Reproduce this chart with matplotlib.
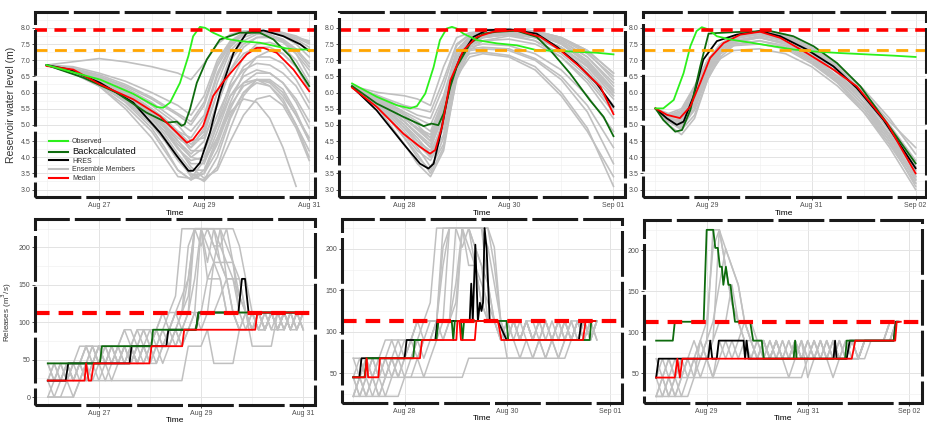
import numpy as np
import matplotlib
matplotlib.use("Agg")
import matplotlib.pyplot as plt
import matplotlib.dates as mdates
from matplotlib.lines import Line2D
from matplotlib.patches import Rectangle
from matplotlib.ticker import MultipleLocator, FormatStrFormatter

plt.rcParams["font.family"] = ["Liberation Sans", "DejaVu Sans"]
plt.rcParams["lines.scale_dashes"] = False

# ---------------- data ----------------
# each column of panels starts on its own day; times below are days since that start
COL_START = ["2020-08-26", "2020-08-27", "2020-08-28"]
COL_TICKS = [
    ["2020-08-27", "2020-08-29", "2020-08-31"],
    ["2020-08-28", "2020-08-30", "2020-09-01"],
    ["2020-08-29", "2020-08-31", "2020-09-02"],
]
LEVEL_MAX = 7.93      # red dashed, reservoir level
LEVEL_TARGET = 7.32   # orange dashed
RELEASE_MAX = 113     # red dashed, releases

# --- water level, forecast 1 ---
P1_OBS_T = [0, 1.02, 1.65, 2.10, 2.22, 2.35, 2.54, 2.70, 2.79, 2.92, 3.02, 3.17, 3.43, 3.68, 4.06, 4.51, 4.70, 5.0]
P1_OBS_V = [6.85, 6.40, 5.96, 5.55, 5.53, 5.69, 6.30, 7.13, 7.74, 8.03, 8.0, 7.85, 7.66, 7.59, 7.54, 7.38, 7.33, 7.33]
P1_BACK_T = [0, 0.70, 1.33, 1.90, 2.29, 2.48, 2.57, 2.63, 2.73, 2.86, 3.05, 3.30, 3.68, 4.06, 4.32, 4.63, 5.0]
P1_BACK_V = [6.85, 6.46, 6.0, 5.38, 5.07, 5.10, 4.97, 5.02, 5.48, 6.30, 7.02, 7.64, 7.85, 7.85, 7.64, 7.13, 6.2]
P1_HRES_T = [0, 0.44, 1.02, 1.65, 2.16, 2.48, 2.70, 2.79, 2.92, 3.11, 3.30, 3.56, 3.81, 4.13, 4.51, 4.83, 5.0]
P1_HRES_V = [6.85, 6.71, 6.30, 5.69, 4.76, 4.04, 3.58, 3.58, 3.83, 4.76, 5.99, 7.23, 7.85, 7.92, 7.74, 7.49, 7.28]
P1_MED_T = [0, 0.51, 1.02, 1.65, 2.16, 2.48, 2.67, 2.79, 2.98, 3.17, 3.37, 3.56, 3.81, 4.0, 4.13, 4.38, 4.70, 5.0]
P1_MED_V = [6.82, 6.71, 6.25, 5.79, 5.27, 4.76, 4.45, 4.55, 4.96, 5.89, 6.35, 6.71, 7.18, 7.38, 7.38, 7.23, 6.71, 6.04]
P1_ENS_T = [0, 0.5, 1, 1.5, 2, 2.25, 2.5, 2.75, 3, 3.25, 3.5, 3.75, 4, 4.25, 4.5, 4.75, 5]
P1_ENS = [
    [6.85, 6.6, 6.2, 5.5, 4.6, 4.0, 3.4, 3.35, 3.9, 5.0, 5.9, 6.3, 6.4, 6.2, 5.7, 5.0, 4.2],
    [6.85, 6.6, 6.25, 5.7, 4.9, 4.3, 3.6, 3.3, 3.5, 4.5, 5.6, 6.2, 6.4, 6.3, 5.9, 5.3, 4.6],
    [6.85, 6.65, 6.3, 5.8, 5.1, 4.6, 4.0, 3.4, 3.3, 4.0, 5.2, 6.0, 6.4, 6.35, 6.0, 5.3, 4.5],
    [6.85, 6.7, 6.4, 6.0, 5.4, 5.0, 4.5, 4.0, 3.9, 4.6, 5.7, 6.6, 7.1, 7.3, 7.2, 6.8, 6.2],
    [6.85, 6.7, 6.45, 6.1, 5.6, 5.3, 5.0, 4.5, 4.6, 5.6, 6.7, 7.4, 7.7, 7.75, 7.6, 7.3, 6.8],
    [6.85, 6.75, 6.5, 6.2, 5.8, 5.55, 5.3, 5.0, 5.6, 6.8, 7.5, 7.8, 7.88, 7.85, 7.75, 7.5, 7.1],
    [6.85, 6.95, 7.05, 6.95, 6.8, 6.7, 6.6, 6.4, 6.9, 7.5, 7.8, 7.9, 7.9, 7.85, 7.8, 7.7, 7.6],
    [6.85, 6.7, 6.4, 6.0, 5.4, 4.9, 4.3, 3.7, 3.35, 3.6, 4.5, 5.3, 5.8, 5.9, 5.6, 4.9, 3.9],
    [6.85, 6.6, 6.2, 5.6, 4.8, 4.2, 3.6, 3.3, 3.6, 4.6, 5.4, 5.8, 5.7, 5.2, 4.3, 3.1, np.nan],
    [6.85, 6.7, 6.35, 5.9, 5.3, 4.9, 4.4, 4.0, 4.3, 5.3, 6.2, 6.7, 6.9, 6.85, 6.6, 6.2, 5.5],
    [6.85, 6.75, 6.45, 6.05, 5.5, 5.2, 4.8, 4.4, 4.8, 6.0, 7.0, 7.5, 7.7, 7.7, 7.55, 7.2, 6.7],
    [6.85, 6.7, 6.4, 5.95, 5.35, 5.0, 4.6, 4.3, 4.9, 6.3, 7.3, 7.7, 7.85, 7.8, 7.6, 7.2, 6.5],
    [6.85, 6.65, 6.3, 5.85, 5.2, 4.7, 4.1, 3.6, 3.6, 4.4, 5.5, 6.3, 6.6, 6.6, 6.3, 5.8, 5.1],
    [6.85, 6.8, 6.6, 6.35, 6.0, 5.8, 5.6, 5.3, 5.9, 7.0, 7.6, 7.85, 7.9, 7.88, 7.8, 7.65, 7.4],
    [6.85, 6.65, 6.3, 5.8, 5.1, 4.6, 4.0, 3.5, 3.25, 3.7, 4.9, 5.9, 6.4, 6.4, 6.1, 5.4, 4.5],
    [6.85, 6.7, 6.4, 5.95, 5.4, 5.1, 4.7, 4.2, 4.2, 5.1, 6.3, 7.1, 7.5, 7.55, 7.4, 7.0, 6.3],
    [6.85, 6.7, 6.45, 6.05, 5.5, 5.15, 4.8, 4.6, 5.2, 6.5, 7.4, 7.8, 7.9, 7.88, 7.8, 7.6, 7.3],
    [6.85, 6.75, 6.5, 6.15, 5.7, 5.4, 5.1, 4.8, 5.3, 6.6, 7.45, 7.8, 7.9, 7.9, 7.85, 7.7, 7.5],
    [6.85, 6.65, 6.35, 5.9, 5.3, 4.95, 4.5, 4.1, 4.5, 5.7, 6.7, 7.2, 7.4, 7.4, 7.2, 6.8, 6.1],
    [6.85, 6.7, 6.35, 5.9, 5.25, 4.8, 4.3, 3.8, 3.8, 4.8, 5.9, 6.5, 6.7, 6.6, 6.3, 5.7, 4.9],
    [6.85, 6.6, 6.25, 5.75, 5.0, 4.5, 3.9, 3.45, 3.5, 4.2, 5.3, 6.0, 6.3, 6.2, 5.8, 5.0, 4.0],
    [6.85, 6.75, 6.55, 6.25, 5.85, 5.6, 5.35, 5.1, 5.7, 6.9, 7.55, 7.85, 7.92, 7.9, 7.85, 7.75, 7.55],
    [6.85, 6.7, 6.4, 6.0, 5.45, 5.1, 4.7, 4.3, 4.7, 6.0, 7.1, 7.6, 7.8, 7.78, 7.65, 7.35, 6.9],
    [6.85, 6.65, 6.3, 5.85, 5.2, 4.8, 4.25, 3.9, 4.0, 5.0, 6.1, 6.8, 7.1, 7.1, 6.9, 6.4, 5.7],
]

# --- water level, forecast 2 ---
P2_OBS_T = [0, 0.47, 0.85, 1.11, 1.24, 1.40, 1.56, 1.68, 1.81, 1.91, 2.0, 2.13, 2.39, 2.77, 3.15, 3.53, 3.92, 4.30, 4.68, 5.0]
P2_OBS_V = [6.28, 5.87, 5.61, 5.51, 5.58, 5.97, 6.79, 7.62, 7.98, 8.03, 7.98, 7.82, 7.62, 7.52, 7.46, 7.31, 7.29, 7.26, 7.23, 7.18]
P2_BACK_T = [0, 0.47, 0.98, 1.37, 1.52, 1.65, 1.75, 1.88, 2.0, 2.26, 2.51, 2.77, 3.15, 3.53, 3.79, 4.17, 4.55, 4.81, 5.0]
P2_BACK_V = [6.2, 5.66, 5.25, 4.96, 5.04, 4.99, 5.35, 6.18, 6.79, 7.52, 7.82, 7.88, 7.91, 7.72, 7.31, 6.59, 5.76, 5.25, 4.65]
P2_HRES_T = [0, 0.47, 0.98, 1.30, 1.46, 1.56, 1.68, 1.88, 2.07, 2.32, 2.58, 3.02, 3.53, 3.92, 4.30, 4.68, 5.0]
P2_HRES_V = [6.18, 5.45, 4.42, 3.80, 3.65, 3.80, 4.63, 6.28, 7.10, 7.72, 7.93, 7.95, 7.82, 7.41, 6.90, 6.28, 5.56]
P2_MED_T = [0, 0.47, 0.98, 1.30, 1.49, 1.59, 1.72, 1.88, 2.13, 2.39, 2.70, 3.15, 3.60, 3.98, 4.36, 4.75, 5.0]
P2_MED_V = [6.15, 5.56, 4.73, 4.32, 4.11, 4.22, 4.94, 6.38, 7.31, 7.72, 7.88, 7.93, 7.72, 7.31, 6.79, 6.18, 5.33]
P2_ENS_T = [0, 0.5, 1, 1.25, 1.5, 1.75, 2, 2.25, 2.5, 3, 3.5, 4, 4.5, 5]
P2_ENS = [
    [6.2, 5.8, 5.3, 5.0, 4.6, 5.6, 7.0, 7.6, 7.8, 7.9, 7.85, 7.6, 7.1, 6.3],
    [6.2, 5.7, 4.9, 4.4, 4.0, 5.2, 7.2, 7.7, 7.85, 7.9, 7.85, 7.5, 6.9, 6.0],
    [6.2, 5.6, 4.6, 4.0, 3.6, 4.6, 6.8, 7.5, 7.75, 7.85, 7.7, 7.3, 6.6, 5.6],
    [6.2, 5.5, 4.4, 3.8, 3.4, 4.2, 6.5, 7.4, 7.7, 7.8, 7.6, 7.1, 6.3, 5.2],
    [6.2, 5.9, 5.6, 5.5, 5.4, 6.4, 7.5, 7.8, 7.9, 7.95, 7.9, 7.65, 7.2, 6.5],
    [6.2, 6.0, 5.9, 5.8, 5.6, 6.8, 7.7, 7.85, 7.9, 7.95, 7.9, 7.7, 7.3, 6.6],
    [6.2, 5.75, 5.1, 4.7, 4.3, 5.3, 6.8, 7.2, 7.25, 7.15, 6.8, 6.0, 4.9, 3.1],
    [6.2, 5.7, 5.0, 4.5, 4.2, 5.0, 6.5, 7.1, 7.2, 7.1, 6.7, 5.9, 4.8, 3.4],
    [6.2, 5.8, 5.2, 4.9, 4.6, 5.6, 7.0, 7.35, 7.4, 7.35, 7.05, 6.5, 5.6, 4.3],
    [6.2, 5.6, 4.7, 4.2, 3.9, 4.7, 6.7, 7.5, 7.7, 7.8, 7.7, 7.35, 6.7, 5.8],
    [6.2, 5.85, 5.4, 5.2, 5.0, 5.9, 7.3, 7.7, 7.85, 7.9, 7.85, 7.55, 7.0, 6.1],
    [6.2, 5.65, 4.8, 4.3, 3.7, 4.4, 6.4, 7.3, 7.6, 7.75, 7.6, 7.2, 6.5, 5.5],
    [6.2, 5.75, 5.2, 4.85, 4.5, 5.5, 7.1, 7.6, 7.8, 7.85, 7.75, 7.4, 6.8, 5.9],
    [6.2, 5.8, 5.2, 4.9, 4.7, 5.7, 7.1, 7.4, 7.5, 7.45, 7.2, 6.7, 5.9, 4.8],
    [6.2, 5.85, 5.35, 5.1, 4.8, 5.8, 7.3, 7.75, 7.9, 7.95, 7.9, 7.7, 7.25, 6.4],
    [6.2, 5.75, 5.1, 4.7, 4.3, 5.3, 7.1, 7.65, 7.85, 7.9, 7.85, 7.6, 7.1, 6.2],
    [6.2, 5.7, 5.0, 4.6, 4.1, 5.0, 7.0, 7.6, 7.8, 7.9, 7.8, 7.5, 6.95, 6.05],
    [6.2, 5.6, 4.6, 4.1, 3.5, 4.3, 6.6, 7.5, 7.75, 7.85, 7.75, 7.4, 6.8, 5.9],
    [6.2, 5.9, 5.5, 5.3, 5.2, 6.2, 7.45, 7.8, 7.9, 7.95, 7.9, 7.7, 7.3, 6.6],
    [6.2, 5.8, 5.2, 4.9, 4.5, 5.5, 7.0, 7.45, 7.6, 7.65, 7.5, 7.1, 6.4, 5.4],
    [6.2, 5.7, 4.9, 4.5, 4.0, 4.9, 6.8, 7.5, 7.7, 7.8, 7.7, 7.4, 6.85, 6.0],
    [6.2, 5.75, 5.1, 4.75, 4.4, 5.4, 6.9, 7.3, 7.35, 7.3, 7.0, 6.4, 5.4, 3.8],
]

# --- water level, forecast 3 ---
P3_OBS_T = [0, 0.15, 0.35, 0.54, 0.67, 0.79, 0.89, 1.02, 1.18, 1.44, 1.88, 2.27, 2.65, 3.04, 3.55, 4.19, 4.58, 5.0]
P3_OBS_V = [5.51, 5.51, 5.77, 6.60, 7.43, 7.90, 8.02, 7.95, 7.74, 7.64, 7.53, 7.43, 7.33, 7.27, 7.22, 7.17, 7.14, 7.10]
P3_BACK_T = [0, 0.15, 0.38, 0.51, 0.67, 0.86, 1.02, 1.18, 1.56, 2.21, 2.65, 3.04, 3.49, 3.94, 4.45, 5.0]
P3_BACK_V = [5.51, 5.15, 4.79, 4.84, 5.46, 6.81, 7.82, 7.84, 7.87, 7.90, 7.74, 7.43, 6.91, 6.19, 5.05, 3.81]
P3_HRES_T = [0, 0.22, 0.41, 0.54, 0.73, 0.92, 1.18, 1.56, 2.01, 2.40, 2.91, 3.42, 3.87, 4.38, 5.0]
P3_HRES_V = [5.51, 5.20, 5.0, 5.10, 5.88, 7.02, 7.59, 7.79, 7.90, 7.74, 7.33, 6.81, 6.14, 5.16, 3.66]
P3_MED_T = [0, 0.22, 0.47, 0.67, 0.86, 1.05, 1.31, 1.63, 2.01, 2.40, 2.91, 3.42, 3.87, 4.45, 5.0]
P3_MED_V = [5.51, 5.31, 5.21, 5.57, 6.30, 7.07, 7.53, 7.79, 7.88, 7.69, 7.22, 6.71, 6.19, 5.05, 3.50]
P3_ENS_T = [0, 0.25, 0.5, 0.75, 1, 1.25, 1.5, 2, 2.5, 3, 3.5, 4, 4.5, 5]
P3_ENS = [
    [5.5, 5.0, 4.7, 5.2, 6.4, 7.2, 7.55, 7.7, 7.5, 7.0, 6.3, 5.4, 4.3, 3.0],
    [5.5, 5.1, 4.9, 5.5, 6.6, 7.3, 7.6, 7.75, 7.6, 7.2, 6.6, 5.7, 4.6, 3.3],
    [5.5, 5.2, 5.1, 5.7, 6.8, 7.4, 7.7, 7.85, 7.7, 7.3, 6.7, 5.9, 4.8, 3.5],
    [5.5, 5.3, 5.3, 6.0, 6.9, 7.4, 7.7, 7.8, 7.6, 7.15, 6.5, 5.7, 4.7, 3.4],
    [5.5, 5.35, 5.5, 6.2, 7.0, 7.5, 7.75, 7.9, 7.8, 7.4, 6.85, 6.1, 5.2, 4.1],
    [5.5, 5.25, 5.2, 5.8, 6.7, 7.2, 7.45, 7.5, 7.35, 6.9, 6.3, 5.5, 4.5, 3.3],
    [5.5, 5.15, 5.0, 5.5, 6.5, 7.05, 7.3, 7.35, 7.2, 6.8, 6.2, 5.4, 4.4, 3.2],
    [5.5, 5.3, 5.4, 6.1, 6.95, 7.45, 7.75, 7.9, 7.75, 7.35, 6.8, 6.0, 5.1, 4.3],
    [5.5, 5.2, 5.05, 5.6, 6.7, 7.35, 7.65, 7.8, 7.65, 7.25, 6.6, 5.8, 4.7, 3.6],
    [5.5, 5.1, 4.85, 5.3, 6.4, 7.1, 7.45, 7.6, 7.45, 7.0, 6.4, 5.6, 4.6, 3.7],
    [5.5, 5.3, 5.35, 6.1, 6.9, 7.4, 7.7, 7.85, 7.7, 7.3, 6.75, 6.0, 5.0, 3.9],
    [5.5, 5.2, 5.15, 5.75, 6.75, 7.3, 7.6, 7.7, 7.5, 7.05, 6.45, 5.6, 4.5, 3.1],
    [5.5, 5.25, 5.25, 5.9, 6.85, 7.4, 7.7, 7.85, 7.7, 7.3, 6.7, 5.9, 4.9, 3.8],
    [5.5, 5.15, 4.95, 5.45, 6.55, 7.2, 7.55, 7.7, 7.55, 7.1, 6.5, 5.7, 4.6, 3.4],
    [5.5, 5.3, 5.45, 6.15, 7.0, 7.5, 7.75, 7.88, 7.72, 7.3, 6.7, 5.85, 4.85, 3.7],
    [5.5, 5.2, 5.1, 5.65, 6.7, 7.25, 7.5, 7.6, 7.4, 6.95, 6.35, 5.5, 4.4, 3.2],
]

# --- releases (m3/s), 3-hourly ensemble grid in days ---
REL_T = [0, 0.125, 0.25, 0.375, 0.5, 0.625, 0.75, 0.875,
         1, 1.125, 1.25, 1.375, 1.5, 1.625, 1.75, 1.875,
         2, 2.125, 2.25, 2.375, 2.5, 2.625, 2.75, 2.875,
         3, 3.125, 3.25, 3.375, 3.5, 3.625, 3.75, 3.875,
         4, 4.125, 4.25, 4.375, 4.5, 4.625, 4.75, 4.875, 5]

R1_BACK_T = [0, 1.02, 1.06, 2.03, 2.06, 2.90, 2.95, 5.0]
R1_BACK_V = [45, 45, 68, 68, 90, 90, 113, 113]
R1_HRES_T = [0, 0.35, 0.40, 1.60, 1.64, 2.32, 2.36, 2.90, 2.95, 3.73, 3.80, 3.86, 3.93, 5.0]
R1_HRES_V = [22, 22, 45, 45, 68, 68, 90, 90, 113, 113, 158, 158, 113, 113]
R1_MED_T = [0, 0.72, 0.75, 0.80, 0.85, 0.90, 1.99, 2.03, 2.63, 2.67, 4.06, 4.10, 5.0]
R1_MED_V = [22, 22, 45, 22, 22, 45, 45, 68, 68, 90, 90, 113, 113]
R1_ENS = [
    [22, 45, 22, 45, 22, 45, 68, 45, 68, 45, 68, 45, 68, 45, 68, 90, 68, 90, 68, 90, 113, 90, 113, 158,
     225, 225, 202, 180, 158, 113, 90, 113, 90, 113, 90, 113, 90, 113, 90, 113, 113],
    [0, 0, 0, 0, 0, 22, 22, 45, 22, 45, 22, 45, 45, 68, 45, 68, 45, 68, 90, 68, 90, 113, 135, 225,
     225, 225, 225, 225, 202, 180, 135, 113, 90, 113, 90, 113, 90, 113, 113, 90, 113],
    [22, 22, 45, 22, 45, 45, 45, 68, 45, 68, 68, 45, 68, 68, 90, 68, 68, 90, 90, 113, 113, 135, 158, 225,
     225, 202, 180, 158, 113, 113, 90, 90, 113, 90, 113, 113, 90, 113, 90, 113, 113],
    [0, 0, 0, 22, 22, 45, 22, 22, 22, 22, 22, 22, 22, 22, 22, 22, 22, 22, 22, 22, 22, 22, 68, 68,
     68, 90, 45, 45, 45, 45, 90, 90, 90, 113, 90, 113, 90, 113, 90, 113, 113],
    [45, 22, 45, 45, 22, 45, 68, 68, 45, 68, 45, 68, 68, 45, 68, 68, 90, 68, 90, 90, 113, 113, 158, 225,
     225, 180, 225, 225, 158, 158, 113, 113, 68, 68, 68, 68, 113, 113, 90, 113, 90],
    [22, 45, 45, 22, 45, 22, 45, 45, 68, 45, 45, 68, 45, 68, 45, 45, 68, 45, 68, 68, 90, 68, 90, 113,
     113, 158, 180, 180, 158, 158, 135, 113, 113, 90, 113, 90, 90, 113, 90, 90, 113],
    [22, 22, 22, 45, 45, 45, 68, 68, 68, 45, 68, 68, 90, 68, 90, 90, 68, 90, 113, 90, 113, 113, 202, 225,
     225, 225, 202, 202, 180, 180, 158, 113, 113, 113, 90, 113, 113, 90, 113, 113, 113],
    [45, 45, 22, 22, 45, 45, 22, 45, 68, 68, 45, 45, 68, 68, 45, 68, 45, 45, 68, 68, 68, 90, 90, 113,
     90, 113, 113, 135, 158, 113, 113, 90, 113, 90, 90, 113, 90, 113, 90, 113, 90],
    [0, 22, 22, 22, 0, 22, 45, 45, 45, 45, 45, 45, 45, 45, 45, 68, 68, 68, 45, 68, 90, 68, 90, 90,
     113, 113, 180, 225, 225, 225, 202, 158, 113, 113, 90, 113, 90, 113, 113, 90, 113],
    [22, 22, 45, 45, 45, 68, 68, 45, 68, 68, 68, 68, 90, 90, 68, 90, 90, 90, 113, 113, 135, 225, 225, 225,
     225, 158, 158, 158, 113, 113, 90, 113, 113, 90, 90, 113, 113, 90, 113, 113, 113],
    [45, 22, 22, 45, 22, 22, 45, 22, 45, 22, 45, 68, 45, 68, 45, 68, 45, 68, 68, 90, 68, 90, 113, 113,
     225, 225, 225, 202, 225, 180, 113, 113, 90, 113, 90, 113, 90, 90, 113, 90, 113],
    [22, 0, 22, 45, 22, 45, 45, 68, 45, 45, 68, 45, 68, 45, 68, 45, 68, 90, 68, 90, 90, 113, 113, 225,
     202, 225, 225, 180, 180, 158, 158, 113, 90, 113, 113, 90, 113, 90, 113, 113, 90],
]

R2_BACK_T = [0, 0.22, 0.26, 1.17, 1.20, 1.62, 1.66, 1.92, 1.95, 1.98, 2.10, 2.13, 2.16, 2.99, 3.02, 4.61, 4.64, 4.72]
R2_BACK_V = [45, 45, 68, 68, 90, 90, 113, 113, 90, 113, 113, 90, 113, 113, 90, 90, 113, 113]
R2_HRES_T = [0, 0.12, 0.16, 1.0, 1.04, 1.60, 1.64, 2.27, 2.30, 2.33, 2.38, 2.43, 2.47, 2.50, 2.53, 2.56,
             2.60, 2.66, 2.82, 2.99, 4.40, 4.45, 4.70]
R2_HRES_V = [45, 45, 68, 68, 90, 90, 113, 113, 158, 113, 205, 113, 135, 125, 135, 225,
             200, 113, 113, 90, 90, 113, 113]
R2_MED_T = [0, 0.23, 0.26, 0.29, 0.49, 0.52, 1.30, 1.34, 2.01, 2.03, 2.07, 2.10, 2.37, 2.40, 2.82, 2.89,
            4.48, 4.53, 4.72]
R2_MED_V = [45, 45, 68, 45, 45, 68, 68, 90, 90, 113, 113, 90, 90, 113, 113, 90, 90, 113, 113]
R2_ENS = [
    [22, 45, 22, 45, 68, 45, 68, 45, 68, 90, 68, 90, 90, 113, 113, 225, 225, 225, 225, 202, 180, 158, 113, 113,
     90, 113, 90, 113, 90, 90, 113, 90, 113, 90, 113, 90, 113, 113, 90],
    [22, 22, 22, 22, 22, 22, 22, 22, 45, 45, 68, 45, 68, 90, 90, 113, 113, 225, 225, 225, 225, 225, 202, 113,
     113, 90, 90, 113, 90, 90, 90, 90, 90, 113, 90, 113, 113, 90, 113],
    [45, 22, 45, 45, 22, 45, 45, 45, 45, 45, 45, 45, 45, 45, 45, 45, 45, 45, 68, 68, 68, 68, 68, 68,
     68, 68, 68, 68, 68, 68, 68, 68, 68, 90, 90, 113, 90, 113, 90],
    [68, 45, 68, 45, 68, 68, 90, 68, 90, 90, 113, 90, 113, 113, 225, 225, 225, 202, 225, 180, 135, 113, 113, 90,
     113, 90, 113, 90, 90, 113, 90, 113, 90, 113, 90, 113, 90, 113, 113],
    [45, 68, 45, 68, 45, 68, 68, 90, 68, 90, 113, 113, 135, 225, 225, 225, 225, 225, 202, 180, 135, 113, 113, 90,
     90, 113, 90, 113, 113, 90, 113, 90, 113, 113, 90, 113, 113, 90, 113],
    [22, 45, 68, 45, 22, 45, 68, 68, 45, 68, 90, 68, 90, 113, 90, 113, 158, 225, 225, 225, 225, 202, 158, 113,
     113, 113, 90, 113, 90, 113, 90, 90, 113, 90, 113, 90, 113, 90, 113],
    [45, 45, 22, 45, 45, 68, 45, 68, 68, 90, 90, 113, 113, 113, 180, 225, 225, 225, 225, 225, 225, 225, 180, 113,
     90, 113, 90, 113, 90, 113, 113, 90, 90, 113, 90, 113, 90, 90, 113],
    [22, 45, 45, 22, 45, 22, 45, 68, 68, 68, 90, 90, 90, 113, 113, 113, 135, 225, 225, 225, 225, 158, 113, 113,
     68, 68, 68, 68, 68, 90, 68, 90, 68, 68, 90, 90, 113, 90, 113],
    [68, 68, 45, 68, 68, 90, 90, 90, 90, 90, 113, 113, 113, 113, 202, 225, 225, 225, 225, 202, 180, 113, 113, 90,
     113, 113, 90, 113, 90, 113, 113, 90, 113, 90, 113, 113, 90, 113, 113],
    [45, 22, 45, 68, 45, 45, 68, 45, 68, 68, 68, 90, 90, 90, 113, 113, 225, 225, 180, 180, 158, 135, 113, 113,
     90, 90, 68, 90, 68, 90, 68, 90, 68, 90, 90, 113, 113, 90, 113],
]

R3_BACK_T = [0, 0.33, 0.37, 0.94, 1.0, 1.13, 1.17, 1.22, 1.26, 1.30, 1.33, 1.38, 1.43, 1.47, 1.56, 1.86, 1.92,
             2.09, 2.13, 2.72, 2.75, 2.78, 3.74, 3.77, 4.70, 4.75, 4.80]
R3_BACK_V = [90, 90, 113, 113, 225, 225, 203, 203, 180, 180, 158, 180, 158, 158, 113, 113, 90,
             90, 68, 68, 90, 68, 68, 90, 90, 113, 113]
R3_HRES_T = [0, 0.05, 1.03, 1.07, 1.11, 1.20, 1.24, 1.73, 1.76, 1.79, 1.83, 3.51, 3.54, 3.57, 3.77, 3.83,
             4.70, 4.74, 4.78]
R3_HRES_V = [45, 68, 68, 90, 68, 68, 90, 90, 68, 90, 68, 68, 90, 68, 68, 90, 90, 113, 113]
R3_MED_T = [0, 0.37, 0.42, 0.47, 0.52, 3.87, 3.94, 4.73, 4.76, 4.84]
R3_MED_V = [45, 45, 68, 45, 68, 68, 90, 90, 113, 113]
R3_ENS = [
    [22, 22, 22, 22, 22, 22, 45, 45, 45, 45, 45, 45, 45, 45, 45, 45, 45, 45, 45, 45, 45, 45, 45, 45,
     68, 68, 68, 68, 68, 68, 68, 68, 68, 68, 90, 90, 90, 90, 113],
    [45, 22, 45, 22, 45, 68, 45, 68, 90, 225, 225, 202, 180, 158, 113, 90, 68, 90, 68, 90, 68, 90, 68, 90,
     68, 90, 68, 90, 68, 90, 68, 90, 68, 90, 90, 90, 90, 113, 113],
    [22, 45, 22, 45, 45, 45, 68, 68, 90, 113, 158, 202, 180, 158, 113, 113, 90, 90, 68, 90, 68, 68, 90, 68,
     90, 68, 90, 68, 90, 68, 68, 90, 68, 90, 90, 90, 90, 113, 113],
    [68, 45, 68, 45, 68, 68, 68, 90, 68, 90, 225, 180, 135, 113, 113, 90, 90, 90, 68, 90, 68, 68, 90, 68,
     68, 90, 68, 90, 68, 90, 68, 90, 68, 90, 90, 90, 90, 113, 113],
    [22, 45, 68, 45, 22, 45, 45, 90, 68, 45, 68, 90, 68, 90, 113, 90, 68, 90, 68, 90, 68, 45, 68, 90,
     45, 68, 90, 68, 45, 68, 90, 68, 68, 90, 90, 90, 90, 90, 113],
    [45, 45, 22, 45, 68, 45, 68, 45, 68, 45, 90, 68, 90, 68, 90, 68, 90, 68, 90, 68, 90, 68, 90, 68,
     90, 68, 90, 68, 90, 68, 90, 68, 68, 90, 90, 90, 90, 90, 113],
    [22, 22, 45, 22, 45, 68, 68, 90, 113, 203, 225, 180, 135, 113, 90, 68, 90, 68, 90, 68, 90, 68, 90, 68,
     90, 68, 90, 68, 90, 68, 68, 68, 68, 90, 90, 90, 90, 113, 113],
    [45, 68, 45, 68, 45, 68, 90, 68, 90, 90, 113, 113, 158, 113, 90, 90, 68, 90, 68, 90, 68, 90, 68, 90,
     68, 90, 68, 90, 68, 90, 68, 90, 68, 90, 90, 90, 90, 90, 113],
]

# ---------------- styling ----------------
C_ENS = "#c0c0c0"
C_OBS = "#2cf01c"
C_BACK = "#0d6b0d"
C_HRES = "#000000"
C_MED = "#ff0000"
C_TARGET = "#ffa500"
TICK_COLOR = "#4d4d4d"

W, H = 928, 425
# axes boxes in pixels: left, top, right, bottom
TOP_BOXES = [(35, 12, 315, 197), (339, 12, 625, 197), (643, 12, 926, 197)]
BOT_BOXES = [(35, 219, 315, 405), (342, 219, 622, 403), (644, 220, 922, 403)]
TOP_XLIM = [(-0.22, 5.11), (-0.25, 5.22), (-0.24, 5.2)]
BOT_XLIM = [(-0.25, 5.23), (-0.22, 5.24), (-0.24, 5.26)]
TOP_YLIM = (2.77, 8.49)
BOT_YLIM = [(-10.6, 238), (14, 236), (14, 237)]


def make_axes(fig, box):
    l, t, r, b = box
    return fig.add_axes([l / W, 1 - b / H, (r - l) / W, (b - t) / H])


def to_x(start, t):
    return mdates.date2num(np.datetime64(start)) + np.asarray(t, dtype=float)


def dashed_border(ax):
    ax.add_patch(Rectangle((0, 0), 1, 1, transform=ax.transAxes, fill=False,
                           edgecolor="#1a1a1a", linewidth=2.2,
                           linestyle=(0, (33, 3.6)), clip_on=False, zorder=10))


def style_axes(ax, col, xlim, ylim, ymajor, yminor, fmt, labelpad):
    start = COL_START[col]
    ax.set_xlim(to_x(start, xlim[0]), to_x(start, xlim[1]))
    ax.set_ylim(*ylim)
    ax.set_xticks([mdates.date2num(np.datetime64(d)) for d in COL_TICKS[col]])
    ax.xaxis.set_major_formatter(mdates.DateFormatter("%b %d"))
    ax.xaxis.set_minor_locator(mdates.DayLocator())
    ax.yaxis.set_major_locator(MultipleLocator(ymajor))
    ax.yaxis.set_minor_locator(MultipleLocator(yminor))
    ax.yaxis.set_major_formatter(FormatStrFormatter(fmt))
    ax.grid(which="major", color="#e3e3e3", linewidth=0.7, zorder=0)
    ax.grid(which="minor", color="#f0f0f0", linewidth=0.45, zorder=0)
    ax.set_axisbelow(True)
    for s in ax.spines.values():
        s.set_visible(False)
    ax.tick_params(which="major", length=2.2, width=0.6, color="#333333",
                   labelsize=5, labelcolor=TICK_COLOR, pad=1.3)
    ax.tick_params(which="minor", length=0)
    ax.set_xlabel("Time", fontsize=6, labelpad=labelpad)
    dashed_border(ax)


def draw_level(ax, col, ens_t, ens, hres, back, med, obs):
    start = COL_START[col]
    for v in ens:
        ax.plot(to_x(start, ens_t), v, color=C_ENS, lw=1.2, zorder=2)
    ax.plot(to_x(start, hres[0]), hres[1], color=C_HRES, lw=1.3, zorder=3)
    ax.plot(to_x(start, back[0]), back[1], color=C_BACK, lw=1.3, zorder=4)
    ax.plot(to_x(start, med[0]), med[1], color=C_MED, lw=1.3, zorder=5)
    ax.plot(to_x(start, obs[0]), obs[1], color=C_OBS, lw=1.3, zorder=6)
    ax.axhline(LEVEL_MAX, color=C_MED, lw=2.6, ls=(0, (8.6, 5.4)), zorder=7)
    ax.axhline(LEVEL_TARGET, color=C_TARGET, lw=2.0, ls=(0, (8.6, 5.4)), zorder=7)


def draw_release(ax, col, ens, hres, back, med):
    start = COL_START[col]
    for v in ens:
        n = min(len(v), len(REL_T))
        ax.plot(to_x(start, REL_T[:n]), v[:n], color=C_ENS, lw=1.1, zorder=2)
    ax.plot(to_x(start, hres[0]), hres[1], color=C_HRES, lw=1.3, zorder=3)
    ax.plot(to_x(start, back[0]), back[1], color=C_BACK, lw=1.3, zorder=4)
    ax.plot(to_x(start, med[0]), med[1], color=C_MED, lw=1.3, zorder=5)
    ax.axhline(RELEASE_MAX, color=C_MED, lw=3.0, ls=(0, (10.5, 6.5)), zorder=7)


fig = plt.figure(figsize=(W / 100, H / 100), dpi=100)

level_sets = [
    (P1_ENS_T, P1_ENS, (P1_HRES_T, P1_HRES_V), (P1_BACK_T, P1_BACK_V), (P1_MED_T, P1_MED_V), (P1_OBS_T, P1_OBS_V)),
    (P2_ENS_T, P2_ENS, (P2_HRES_T, P2_HRES_V), (P2_BACK_T, P2_BACK_V), (P2_MED_T, P2_MED_V), (P2_OBS_T, P2_OBS_V)),
    (P3_ENS_T, P3_ENS, (P3_HRES_T, P3_HRES_V), (P3_BACK_T, P3_BACK_V), (P3_MED_T, P3_MED_V), (P3_OBS_T, P3_OBS_V)),
]
release_sets = [
    (R1_ENS, (R1_HRES_T, R1_HRES_V), (R1_BACK_T, R1_BACK_V), (R1_MED_T, R1_MED_V)),
    (R2_ENS, (R2_HRES_T, R2_HRES_V), (R2_BACK_T, R2_BACK_V), (R2_MED_T, R2_MED_V)),
    (R3_ENS, (R3_HRES_T, R3_HRES_V), (R3_BACK_T, R3_BACK_V), (R3_MED_T, R3_MED_V)),
]

top_axes = []
for col in range(3):
    ax = make_axes(fig, TOP_BOXES[col])
    draw_level(ax, col, *level_sets[col])
    style_axes(ax, col, TOP_XLIM[col], TOP_YLIM, 0.5, 0.25, "%.1f", 1)
    top_axes.append(ax)

bot_axes = []
for col in range(3):
    ax = make_axes(fig, BOT_BOXES[col])
    draw_release(ax, col, *release_sets[col])
    style_axes(ax, col, BOT_XLIM[col], BOT_YLIM[col], 50, 25, "%d", 0)
    bot_axes.append(ax)

top_axes[0].set_ylabel("Reservoir water level (m)", fontsize=7.5, color="#333333", labelpad=3)
bot_axes[0].set_ylabel("Releases (m$^3$/s)", fontsize=5.8, color="#333333", labelpad=3)

handles = [
    Line2D([], [], color=C_OBS, lw=1.5),
    Line2D([], [], color=C_BACK, lw=1.5),
    Line2D([], [], color=C_HRES, lw=1.5),
    Line2D([], [], color=C_ENS, lw=1.5),
    Line2D([], [], color=C_MED, lw=1.5),
]
labels = ["Observed", "Backcalculated", "HRES", "Ensemble Members", "Median"]
leg = top_axes[0].legend(handles, labels, loc="lower left", bbox_to_anchor=(0.05, 0.08),
                         frameon=False, fontsize=5, handlelength=2.8, handletextpad=0.5,
                         labelspacing=0.25, borderpad=0, borderaxespad=0)
for txt in leg.get_texts():
    txt.set_color("#333333")
leg.get_texts()[1].set_fontsize(6.8)
leg.get_texts()[1].set_color("#111111")
leg.set_zorder(8)

fig.savefig("out.png", dpi=100)
